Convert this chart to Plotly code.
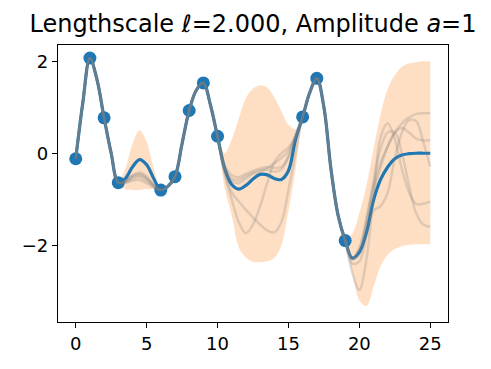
import plotly.graph_objects as go

x_grid = [i * 0.5 for i in range(51)]

obs_x = [0, 1, 2, 3, 6, 7, 8, 9, 10, 16, 17, 19]
obs_y = [-0.12, 2.07, 0.77, -0.64, -0.80, -0.51, 0.93, 1.53, 0.37, 0.79, 1.63, -1.90]

post_mean = [-0.12, 1.10, 2.07, 1.60, 0.77, 0.00, -0.64, -0.55, -0.30, -0.14,
             -0.25, -0.55, -0.80, -0.72, -0.51, 0.21, 0.93, 1.37, 1.53, 1.05,
             0.36, -0.33, -0.68, -0.78, -0.70, -0.56, -0.46, -0.47, -0.55, -0.57,
             -0.38, 0.30, 0.79, 1.32, 1.63, 1.00, -0.35, -1.35, -1.90, -2.28,
             -2.15, -1.72, -1.02, -0.57, -0.30, -0.12, -0.04, -0.01, 0.00, 0.00,
             0.00]

upper_bd = [-0.09, 1.13, 2.10, 1.63, 0.80, 0.03, -0.61, -0.33, 0.20, 0.50,
            0.25, -0.33, -0.77, -0.69, -0.48, 0.24, 0.96, 1.40, 1.56, 1.08,
            0.39, 0.00, 0.30, 0.75, 1.20, 1.40, 1.48, 1.43, 1.22, 0.92,
            0.62, 0.52, 0.82, 1.36, 1.66, 1.08, -0.27, -1.27, -1.86, -1.75,
            -1.30, -0.70, 0.10, 0.85, 1.40, 1.70, 1.88, 1.95, 1.98, 2.00,
            2.00]

lower_bd = [-0.15, 1.07, 2.04, 1.57, 0.74, -0.03, -0.67, -0.78, -0.80, -0.80,
            -0.78, -0.78, -0.83, -0.75, -0.54, 0.18, 0.90, 1.34, 1.50, 1.02,
            0.33, -0.75, -1.35, -2.05, -2.27, -2.36, -2.37, -2.35, -2.28, -2.00,
            -1.25, -0.36, 0.76, 1.28, 1.60, 0.92, -0.43, -1.43, -1.95, -2.60,
            -3.20, -3.32, -2.90, -2.45, -2.20, -2.08, -2.02, -1.99, -1.98, -1.98,
            -1.98]

sample_1 = [-0.12, 1.10, 2.07, 1.60, 0.77, 0.00, -0.64, -0.60, -0.48, -0.42,
            -0.50, -0.68, -0.80, -0.72, -0.51, 0.21, 0.93, 1.37, 1.53, 1.05,
            0.36, -0.25, -0.48, -0.52, -0.45, -0.38, -0.33, -0.30, -0.32, -0.30,
            -0.10, 0.35, 0.79, 1.32, 1.63, 1.00, -0.35, -1.35, -1.90, -2.60,
            -2.97, -2.30, -0.90, 0.35, 0.65, 0.30, -0.35, -0.85, -1.10, -1.10,
            -1.05]

sample_2 = [-0.12, 1.10, 2.07, 1.60, 0.77, 0.00, -0.64, -0.62, -0.52, -0.48,
            -0.55, -0.70, -0.80, -0.72, -0.51, 0.21, 0.93, 1.37, 1.53, 1.05,
            0.36, -0.45, -1.00, -1.50, -1.74, -1.55, -1.15, -0.65, -0.20, 0.00,
            0.12, 0.35, 0.79, 1.32, 1.63, 1.00, -0.35, -1.35, -1.90, -2.30,
            -2.20, -1.50, -0.60, 0.10, 0.45, 0.45, 0.00, -0.70, -1.30, -1.55,
            -1.60]

sample_3 = [-0.12, 1.10, 2.07, 1.60, 0.77, 0.00, -0.64, -0.63, -0.56, -0.52,
            -0.60, -0.72, -0.80, -0.72, -0.51, 0.21, 0.93, 1.37, 1.53, 1.05,
            0.36, -0.40, -0.85, -1.05, -1.23, -1.40, -1.55, -1.68, -1.72, -1.50,
            -0.80, 0.00, 0.79, 1.32, 1.63, 1.00, -0.35, -1.35, -1.90, -2.40,
            -2.35, -1.80, -1.25, -1.15, -0.85, -0.10, 0.45, 0.72, 0.70, 0.25,
            -0.29]

sample_4 = [-0.12, 1.10, 2.07, 1.60, 0.77, 0.00, -0.64, -0.60, -0.50, -0.45,
            -0.55, -0.70, -0.80, -0.72, -0.51, 0.21, 0.93, 1.37, 1.53, 1.05,
            0.36, -0.30, -0.55, -0.58, -0.50, -0.42, -0.37, -0.36, -0.40, -0.35,
            -0.05, 0.40, 0.79, 1.32, 1.63, 1.00, -0.35, -1.35, -1.90, -2.30,
            -2.05, -1.40, -0.70, -0.20, 0.15, 0.45, 0.65, 0.78, 0.85, 0.87,
            0.87]

sample_5 = [-0.12, 1.10, 2.07, 1.60, 0.77, 0.00, -0.64, -0.64, -0.60, -0.58,
            -0.65, -0.75, -0.80, -0.72, -0.51, 0.21, 0.93, 1.37, 1.53, 1.05,
            0.36, -0.35, -0.60, -0.65, -0.55, -0.45, -0.40, -0.32, -0.22, -0.10,
            0.05, 0.38, 0.79, 1.32, 1.63, 1.00, -0.35, -1.35, -1.90, -2.30,
            -2.10, -1.55, -0.85, -0.30, 0.15, 0.45, 0.55, 0.45, 0.32, 0.28,
            0.29]

samples = [sample_1, sample_2, sample_3, sample_4, sample_5]

x_ticks = [0, 5, 10, 15, 20, 25]
y_ticks = [-2, 0, 2]

FONT = "DejaVu Sans"
BLUE = "#1f77b4"

fig = go.Figure()

# confidence band
fig.add_trace(go.Scatter(x=x_grid, y=lower_bd, mode="lines", line=dict(width=0, shape="spline"),
                         showlegend=False, hoverinfo="skip"))
fig.add_trace(go.Scatter(x=x_grid, y=upper_bd, mode="lines", line=dict(width=0, shape="spline"),
                         fill="tonexty", fillcolor="rgba(255,127,14,0.25)",
                         showlegend=False, hoverinfo="skip"))

# observations
fig.add_trace(go.Scatter(x=obs_x, y=obs_y, mode="markers",
                         marker=dict(color=BLUE, size=13, line=dict(width=0)),
                         showlegend=False))

# posterior mean
fig.add_trace(go.Scatter(x=x_grid, y=post_mean, mode="lines",
                         line=dict(color=BLUE, width=3.2, shape="spline"),
                         showlegend=False))

# posterior samples
for s in samples:
    fig.add_trace(go.Scatter(x=x_grid, y=s, mode="lines",
                             line=dict(color="rgba(128,128,128,0.25)", width=2.5, shape="spline"),
                             showlegend=False))

axis_common = dict(showline=True, linecolor="black", linewidth=1.2, mirror=True,
                   ticks="outside", ticklen=5, tickwidth=1.2, tickcolor="black",
                   showgrid=False, zeroline=False,
                   tickfont=dict(family=FONT, size=18, color="black"))

fig.update_xaxes(range=[-1.25, 26.25], tickvals=x_ticks, **axis_common)
fig.update_yaxes(range=[-3.67, 2.354], tickvals=y_ticks, **axis_common)

# the page body adds an 8px offset, so margins are reduced by 8px on left/top
fig.update_layout(
    width=491, height=369, autosize=False,
    margin=dict(l=50, r=51, t=37, b=55),
    plot_bgcolor="white", paper_bgcolor="white",
    title=dict(text="Lengthscale <i>ℓ</i>=2.000, Amplitude <i>a</i>=1",
               x=0.5, xref="paper", xanchor="center",
               y=1 - 16 / 369, yref="container", yanchor="middle",
               font=dict(family=FONT, size=24, color="black")),
)

fig.write_html("out.html")
